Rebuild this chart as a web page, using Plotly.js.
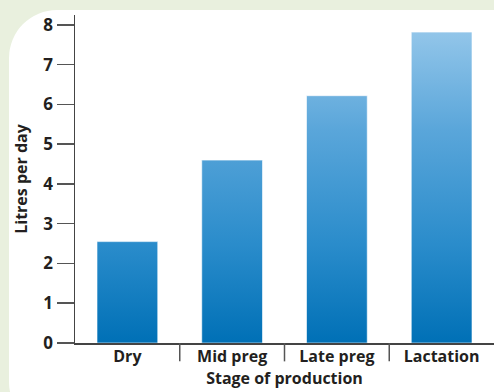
<!DOCTYPE html>
<html>
<head>
<meta charset="utf-8">
<script src="https://cdn.plot.ly/plotly-3.0.1.min.js"></script>
<style>
  html, body { margin:0; padding:0; width:494px; height:392px; overflow:hidden; background:#e9f0de; }
  #panel { position:absolute; left:9px; top:10px; width:540px; height:420px; background:#ffffff; border-radius:48px; }
  #chart { position:absolute; left:0; top:0; width:494px; height:392px; }
</style>
</head>
<body>
<div id="panel"></div>
<div id="chart"></div>
<script>
const categories = ["Dry", "Mid preg", "Late preg", "Lactation"];
const litresPerDay = [2.55, 4.6, 6.22, 7.82];
const yTickValues = [0, 1, 2, 3, 4, 5, 6, 7, 8];
const xTitle = "Stage of production";
const yTitle = "Litres per day";

const fontFamily = "'Open Sans', 'DejaVu Sans', sans-serif";
const textColor = "#231f20";

const trace = {
  type: "bar",
  x: categories,
  y: litresPerDay,
  width: 0.58,
  marker: { color: "#2f8fcc", line: { width: 1, color: "rgba(255,255,255,0.6)" } },
  hoverinfo: "x+y"
};

// separator ticks between categories
const shapes = [];
for (let i = 0; i < categories.length - 1; i++) {
  shapes.push({
    type: "line", xref: "x", yref: "paper",
    x0: i + 0.5, x1: i + 0.5, y0: 0, y1: -0.056,
    line: { color: "#555555", width: 1.5 }
  });
}

const layout = {
  width: 494, height: 392,
  margin: { l: 75, r: 0, t: 15, b: 49 },
  paper_bgcolor: "rgba(0,0,0,0)",
  plot_bgcolor: "rgba(0,0,0,0)",
  showlegend: false,
  font: { family: fontFamily, color: textColor },
  xaxis: {
    type: "category",
    range: [-0.5, 3.5],
    showline: true, linecolor: "#444444", linewidth: 1.5,
    ticks: "", showgrid: false, zeroline: false,
    tickfont: { size: 16, color: textColor, weight: "bold" },
    ticklabelstandoff: -2,
    title: { text: xTitle, font: { size: 16, color: textColor, weight: "bold" }, standoff: 6 }
  },
  yaxis: {
    range: [0, 8.25],
    tickvals: yTickValues,
    ticktext: yTickValues.map(String),
    showline: true, linecolor: "#444444", linewidth: 1.5,
    ticks: "outside", ticklen: 17, tickwidth: 1.5, tickcolor: "#555555",
    showgrid: false, zeroline: false,
    tickfont: { size: 17, color: textColor, weight: "bold" },
    ticklabelstandoff: 0,
    title: { text: yTitle, font: { size: 16, color: textColor, weight: "bold" }, standoff: 12 }
  },
  shapes: shapes
};

Plotly.newPlot("chart", [trace], layout, { displayModeBar: false, staticPlot: true }).then(function (gd) {
  const svg = gd.querySelector("svg.main-svg");
  const h = gd._fullLayout._size.h;
  const ns = "http://www.w3.org/2000/svg";
  let defs = svg.querySelector("defs");
  if (!defs) { defs = document.createElementNS(ns, "defs"); svg.insertBefore(defs, svg.firstChild); }
  const grad = document.createElementNS(ns, "linearGradient");
  grad.setAttribute("id", "barGrad");
  grad.setAttribute("gradientUnits", "userSpaceOnUse");
  grad.setAttribute("x1", "0"); grad.setAttribute("x2", "0");
  grad.setAttribute("y1", "0"); grad.setAttribute("y2", String(h));
  [["0", "#9ccbec"], ["0.35", "#5aa6da"], ["0.7", "#2a8ccb"], ["1", "#0070b6"]].forEach(function (s) {
    const st = document.createElementNS(ns, "stop");
    st.setAttribute("offset", s[0]);
    st.setAttribute("stop-color", s[1]);
    grad.appendChild(st);
  });
  defs.appendChild(grad);
  gd.querySelectorAll(".bars .point path").forEach(function (p) {
    p.style.fill = "url(#barGrad)";
  });
});
</script>
</body>
</html>
